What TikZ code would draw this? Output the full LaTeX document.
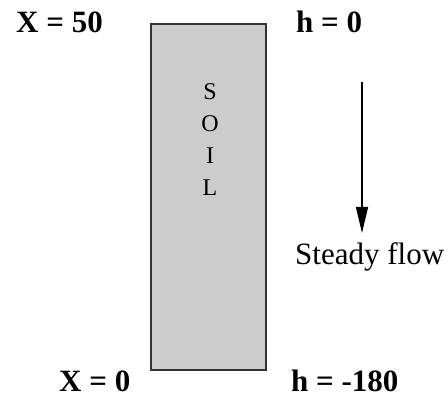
\documentclass[tikz,border=0pt]{standalone}
\usepackage{fontspec}
\setmainfont{Liberation Serif}
\usetikzlibrary{arrows.meta}

\begin{document}
\begin{tikzpicture}[
            x=1pt, y=-1pt,
            soil/.style={
                draw=black!80,
                fill=black!20,
                line width=1.6pt,
                minimum width=115pt,
                minimum height=346pt,
                inner sep=0pt
            },
            bc/.style={font=\fontsize{31}{31}\selectfont\bfseries, anchor=base west, inner sep=0pt},
            letter/.style={font=\fontsize{24}{24}\selectfont, anchor=base, inner sep=0pt},
            arrow/.style={-{Triangle[length=26pt,width=12pt]}, line width=1.4pt}
        ]
        \useasboundingbox (0,0) rectangle (448,398);

        \node[soil] (column) at (208.5,197) {};
        \foreach \ch [count=\i] in {S,O,I,L}
            \node[letter] (l\i) at (210,68+32*\i) {\ch};

        \node[bc] (xtop) at (16,33) {X = 50};
        \node[bc] (htop) at (296,33) {h = 0};
        \node[bc] (xbot) at (59,392) {X = 0};
        \node[bc] (hbot) at (291,392) {h = -180};

        \node[font=\fontsize{31}{31}\selectfont, anchor=base west, inner sep=0pt] (flow) at (295,265) {Steady flow};
        \coordinate (start) at (362,82);
        \coordinate (tip) at (362,233);
        \draw[arrow] (start) -- (tip);

        \end{tikzpicture}
\end{document}
